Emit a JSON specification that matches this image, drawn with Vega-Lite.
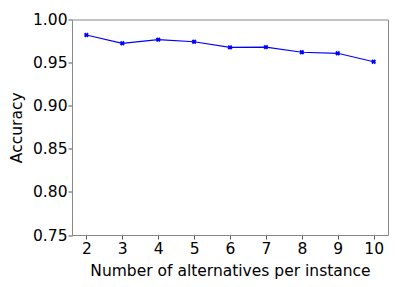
{
  "$schema": "https://vega.github.io/schema/vega-lite/v6.json",
  "autosize": "none",
  "width": 316,
  "height": 215.5,
  "padding": {"left": 72, "top": 19.5, "right": 27, "bottom": 52},
  "background": "white",
  "data": {"values": [
    {"n": 2, "acc": 0.982},
    {"n": 3, "acc": 0.9724},
    {"n": 4, "acc": 0.9766},
    {"n": 5, "acc": 0.9742},
    {"n": 6, "acc": 0.9677},
    {"n": 7, "acc": 0.968},
    {"n": 8, "acc": 0.962},
    {"n": 9, "acc": 0.9608},
    {"n": 10, "acc": 0.951}
  ]},
  "config": {
    "font": "DejaVu Sans",
    "view": {"stroke": "#888888", "strokeWidth": 1},
    "axis": {
      "grid": false,
      "domainColor": "#888888",
      "tickColor": "#555555",
      "tickSize": 4,
      "labelFont": "DejaVu Sans",
      "labelFontSize": 15.5,
      "labelColor": "black",
      "titleFont": "DejaVu Sans",
      "titleFontSize": 15.5,
      "titleFontWeight": "normal",
      "titleColor": "black"
    }
  },
  "mark": {"type": "line", "color": "#0000ff", "strokeWidth": 1.2, "point": {"shape": "cross", "angle": 45, "size": 24, "filled": true, "color": "#0000ff"}},
  "encoding": {
    "x": {
      "field": "n", "type": "quantitative",
      "scale": {"domain": [1.6, 10.4], "nice": false, "zero": false},
      "axis": {"values": [2, 3, 4, 5, 6, 7, 8, 9, 10], "title": "Number of alternatives per instance", "labelPadding": 2, "titlePadding": 7}
    },
    "y": {
      "field": "acc", "type": "quantitative",
      "scale": {"domain": [0.75, 1.0], "nice": false, "zero": false},
      "axis": {"values": [0.75, 0.8, 0.85, 0.9, 0.95, 1.0], "format": ".2f", "title": "Accuracy", "labelPadding": 1, "titlePadding": 8}
    }
  }
}
